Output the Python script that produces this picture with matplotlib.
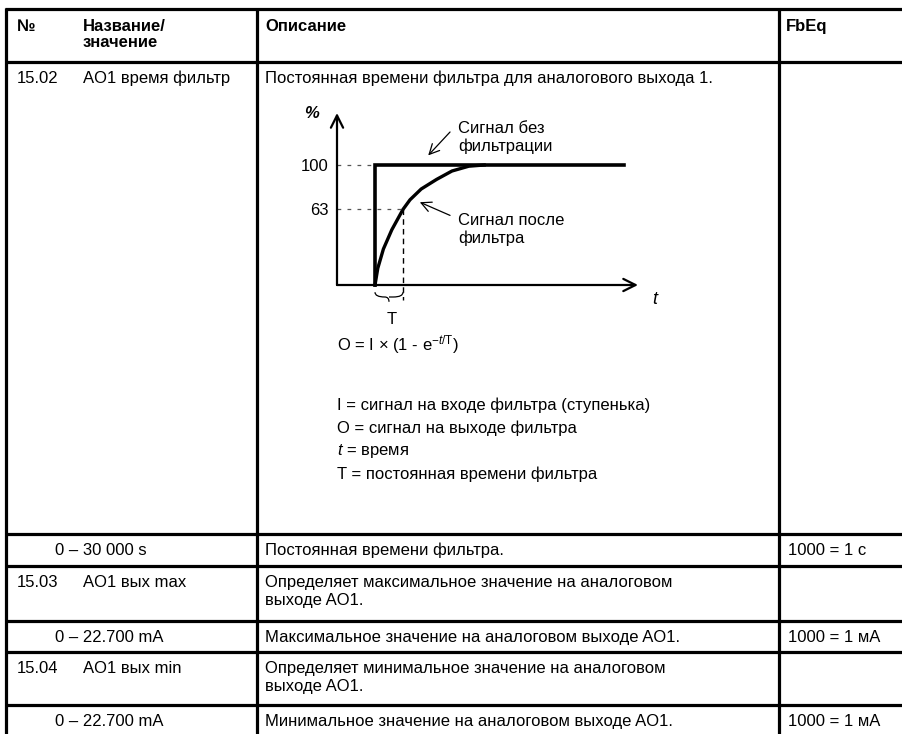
import matplotlib
matplotlib.use("Agg")
import matplotlib.pyplot as plt
from matplotlib.path import Path as MPath
from matplotlib.patches import PathPatch

plt.rcParams["font.family"] = ["Liberation Sans", "DejaVu Sans"]
plt.rcParams["mathtext.fontset"] = "custom"
plt.rcParams["mathtext.rm"] = "Liberation Sans"
plt.rcParams["mathtext.it"] = "Liberation Sans:italic"
plt.rcParams["mathtext.bf"] = "Liberation Sans:bold"

# --- table content ---
headers = ["№", "Название/\nзначение", "Описание", "FbEq"]
row_numbers = ["15.02", "", "15.03", "", "15.04", ""]
row_names = ["AO1 время фильтр", "0 – 30 000 s", "AO1 вых max", "0 – 22.700 mA",
             "AO1 вых min", "0 – 22.700 mA"]
row_descr = ["Постоянная времени фильтра для аналогового выхода 1.",
             "Постоянная времени фильтра.",
             "Определяет максимальное значение на аналоговом\nвыходе AO1.",
             "Максимальное значение на аналоговом выходе AO1.",
             "Определяет минимальное значение на аналоговом\nвыходе AO1.",
             "Минимальное значение на аналоговом выходе AO1."]
row_fbeq = ["", "1000 = 1 с", "", "1000 = 1 мА", "", "1000 = 1 мА"]

# --- diagram content (t in units of T, signal in %) ---
step_t = [0, 0, 8.9]
step_pct = [0, 100, 100]
filt_t = [0, 0.1, 0.3, 0.6, 1.0, 1.25, 1.65, 2.2, 2.75, 3.35, 3.9]
filt_pct = [0, 14, 30, 46, 63, 71, 80, 88, 95, 99, 100]
level_ticks = [63, 100]
legend_lines = ["I = сигнал на входе фильтра (ступенька)",
                "O = сигнал на выходе фильтра",
                r"$\mathit{t}$ = время",
                "T = постоянная времени фильтра"]

W, H = 902, 734
FS = 12
fig = plt.figure(figsize=(W / 100, H / 100), dpi=100)
ax = fig.add_axes([0, 0, 1, 1])
ax.set_xlim(0, W)
ax.set_ylim(H, 0)
ax.axis("off")

# grid lines of the table
h_lines = [9, 62, 534, 566, 621, 652, 705]
v_lines = [6, 257, 779]
for y in h_lines:
    ax.plot([v_lines[0] - 1, W], [y, y], color="black", lw=2.3, solid_capstyle="butt")
for x in v_lines:
    ax.plot([x, x], [h_lines[0] - 1, H], color="black", lw=2.3, solid_capstyle="butt")

col_x = [17, 83, 265, 786]
for x, txt in zip(col_x, headers):
    ax.text(x, 19, txt, fontsize=FS, fontweight="bold", va="top", ha="left",
            linespacing=1.1)

row_tops = [62, 534, 566, 621, 652, 705]
for i in range(len(row_names)):
    y = row_tops[i] + 9
    name_x = col_x[1] if row_numbers[i] else 55
    ax.text(col_x[0], y, row_numbers[i], fontsize=FS, va="top")
    ax.text(name_x, y, row_names[i], fontsize=FS, va="top")
    ax.text(col_x[2], y, row_descr[i], fontsize=FS, va="top", linespacing=1.25)
    ax.text(col_x[3] + 2, y, row_fbeq[i], fontsize=FS, va="top")

# formula and explanations
ax.text(337, 345, r"O = I × (1 - e$^{-\mathit{t}/\mathrm{T}}$)", fontsize=FS,
        va="center")
for k, line in enumerate(legend_lines):
    ax.text(337, 405 + 23 * k, line, fontsize=FS, va="center")

# --- diagram axes ---
x0, x1, ytop, ybot = 337, 638, 113, 285
dax = fig.add_axes([x0 / W, 1 - ybot / H, (x1 - x0) / W, (ybot - ytop) / H])
t_min, t_max = -38 / 28, (x1 - 375) / 28
dax.set_xlim(t_min, t_max)
dax.set_ylim(0, (ybot - ytop) / 1.2)
for s in dax.spines.values():
    s.set_visible(False)
dax.patch.set_alpha(0)
dax.set_xticks([])
dax.set_yticks(level_ticks)
dax.set_yticklabels([str(v) for v in level_ticks], fontsize=FS)
dax.tick_params(axis="y", length=0, pad=6)

arrow = dict(arrowstyle="->", lw=1.6, color="black", mutation_scale=22,
             shrinkA=0, shrinkB=0)
dax.annotate("", xy=(t_min, dax.get_ylim()[1]), xytext=(t_min, 0),
             arrowprops=arrow, annotation_clip=False)
dax.annotate("", xy=(t_max, 0), xytext=(t_min, 0),
             arrowprops=arrow, annotation_clip=False)

dax.plot(step_t, step_pct, color="black", lw=2.6, solid_joinstyle="miter",
         clip_on=False)
dax.plot(filt_t, filt_pct, color="black", lw=2.4, clip_on=False)

dash = dict(color="#555555", lw=0.9, linestyle=(0, (3, 5)), clip_on=False)
dax.plot([t_min, 0], [100, 100], **dash)
dax.plot([t_min, 1], [63, 63], **dash)
dax.plot([1, 1], [63, -12.5], color="black", lw=1.0, linestyle=(0, (4, 3)),
         clip_on=False)

# brace under T
bv = [(0, -6), (0, -10), (0.35, -10), (0.5, -10), (0.5, -14), (0.5, -10),
      (0.65, -10), (1, -10), (1, -6)]
codes = [MPath.MOVETO, MPath.CURVE3, MPath.CURVE3, MPath.CURVE3, MPath.CURVE3,
         MPath.MOVETO, MPath.LINETO, MPath.CURVE3, MPath.CURVE3]
dax.add_patch(PathPatch(MPath(bv, codes), fill=False, lw=0.9, clip_on=False))
dax.text(0.6, -29, "T", fontsize=FS, ha="center", va="center", clip_on=False)

dax.text(t_min - 0.9, 143, "%", fontsize=FS, fontweight="bold", style="italic",
         ha="center", va="center", clip_on=False)
dax.text(t_max + 0.6, -12.5, "t", fontsize=FS + 1, style="italic",
         ha="center", va="center", clip_on=False)

thin = dict(arrowstyle="->", lw=0.9, color="black", mutation_scale=18,
            shrinkA=0, shrinkB=0)
dax.annotate("", xy=(1.9, 108), xytext=(2.68, 127.5), arrowprops=thin,
             annotation_clip=False)
dax.annotate("", xy=(1.6, 69), xytext=(2.68, 58), arrowprops=thin,
             annotation_clip=False)
dax.text(2.96, 123, "Сигнал без\nфильтрации", fontsize=FS, va="center",
         linespacing=1.2, clip_on=False)
dax.text(2.96, 46, "Сигнал после\nфильтра", fontsize=FS, va="center",
         linespacing=1.2, clip_on=False)

fig.savefig("out.png", dpi=100)
